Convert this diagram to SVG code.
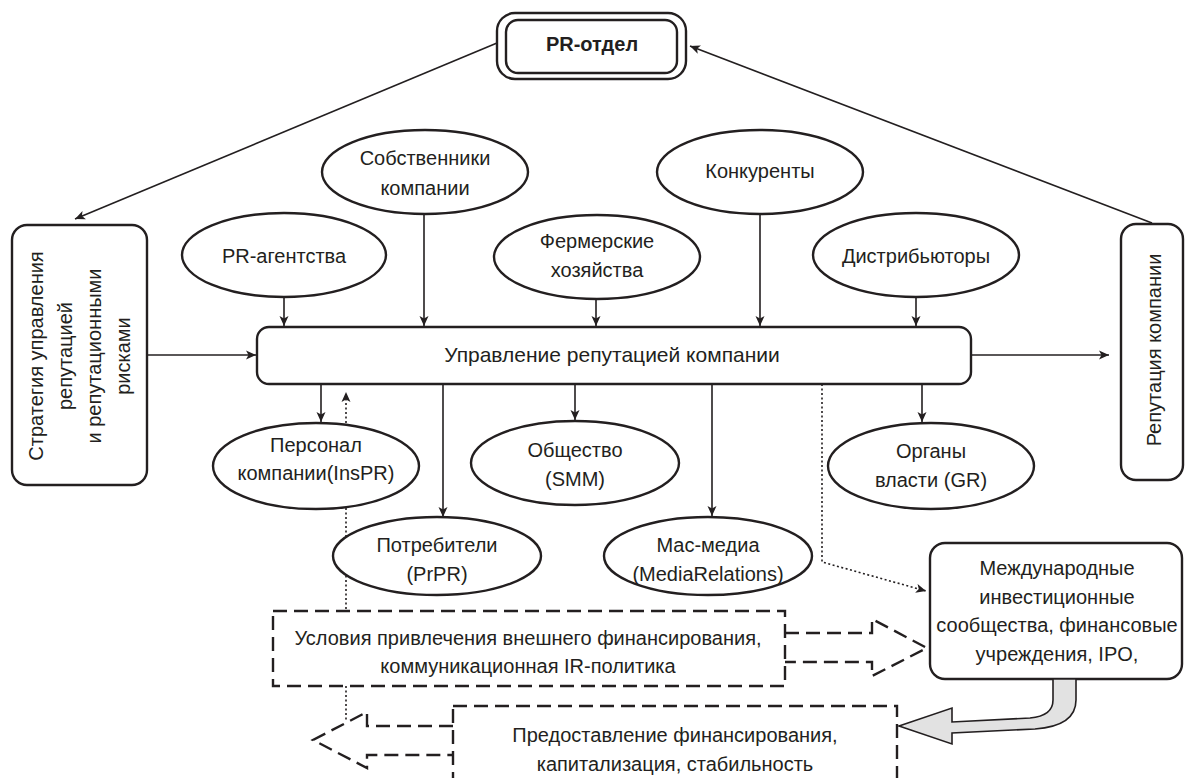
<svg xmlns="http://www.w3.org/2000/svg" width="1186" height="778" viewBox="0 0 1186 778">
  <style>
    text { font-family: "Liberation Sans", Arial, sans-serif; font-size: 20px; fill: #231f20; }
    .c { text-anchor: middle; }
    .node { fill: #fff; stroke: #231f20; stroke-width: 2.4; }
    .link { fill: none; stroke: #231f20; stroke-width: 1.6; }
    .dot { fill: none; stroke: #231f20; stroke-width: 1.6; stroke-dasharray: 2 2.5; }
    .dash { fill: none; stroke: #231f20; stroke-width: 2.4; stroke-dasharray: 14 7; }
  </style>
  <defs>
    <marker id="arr" viewBox="0 0 10 10" markerWidth="10" markerHeight="10" refX="10" refY="5" orient="auto" markerUnits="userSpaceOnUse">
      <path d="M0,0.5 L10,5 L0,9.5 L2.5,5 Z" fill="#231f20"/>
    </marker>
  </defs>
  <rect width="1186" height="778" fill="#fff"/>

  <!-- connectors -->
  <g id="connectors">
    <line class="link" x1="497" y1="43" x2="75" y2="219" marker-end="url(#arr)"/>
    <line class="link" x1="1152" y1="223" x2="690" y2="46" marker-end="url(#arr)"/>
    <line class="link" x1="147" y1="355" x2="256" y2="355" marker-end="url(#arr)"/>
    <line class="link" x1="971" y1="355" x2="1109" y2="355" marker-end="url(#arr)"/>

    <line class="link" x1="284" y1="297" x2="284" y2="326" marker-end="url(#arr)"/>
    <line class="link" x1="424" y1="214" x2="424" y2="326" marker-end="url(#arr)"/>
    <line class="link" x1="596" y1="299" x2="596" y2="326" marker-end="url(#arr)"/>
    <line class="link" x1="760" y1="214" x2="760" y2="326" marker-end="url(#arr)"/>
    <line class="link" x1="916" y1="297" x2="916" y2="326" marker-end="url(#arr)"/>

    <line class="link" x1="321" y1="384" x2="321" y2="422" marker-end="url(#arr)"/>
    <line class="dot" x1="346" y1="423" x2="346" y2="392" marker-end="url(#arr)"/>
    <line class="link" x1="443" y1="384" x2="443" y2="517" marker-end="url(#arr)"/>
    <line class="link" x1="575" y1="384" x2="575" y2="420" marker-end="url(#arr)"/>
    <line class="link" x1="712" y1="384" x2="712" y2="516" marker-end="url(#arr)"/>
    <line class="link" x1="922" y1="384" x2="922" y2="422" marker-end="url(#arr)"/>

    <polyline class="dot" points="822,384 822,562 926,591" marker-end="url(#arr)"/>
    <line class="dot" x1="346" y1="508" x2="346" y2="611"/>
    <line class="dot" x1="346" y1="686" x2="346" y2="722"/>

    <!-- hollow dashed arrows -->
    <path class="dash" d="M785,633 H872 V619 L927,648 L872,676 V662 H785"/>
    <path class="dash" d="M453,726 H367 V712 L313,740 L367,768 V755 H453"/>
  </g>

  <!-- PR department -->
  <g id="pr-dept">
    <rect x="497" y="13" width="189" height="66" rx="18" class="node"/>
    <rect x="506" y="20" width="171" height="53" rx="12" class="node"/>
    <text x="592" y="51" class="c" style="font-weight:bold">PR-отдел</text>
  </g>

  <!-- strategy -->
  <g id="strategy">
    <rect x="12" y="225" width="135" height="260" rx="15" class="node"/>
    <text class="c" transform="translate(43,356) rotate(-90)">Стратегия управления</text>
    <text class="c" transform="translate(72,356) rotate(-90)">репутацией</text>
    <text class="c" transform="translate(101,356) rotate(-90)">и репутационными</text>
    <text class="c" transform="translate(130,356) rotate(-90)">рисками</text>
  </g>

  <!-- reputation -->
  <g id="reputation">
    <rect x="1121" y="224" width="62" height="256" rx="15" class="node"/>
    <text class="c" transform="translate(1161,350) rotate(-90)">Репутация компании</text>
  </g>

  <!-- central process -->
  <g id="management">
    <rect x="257" y="327" width="714" height="57" rx="12" class="node"/>
    <text x="612" y="362" class="c" style="font-size:21px">Управление репутацией компании</text>
  </g>

  <!-- stakeholders above -->
  <g id="pr-agencies">
    <ellipse cx="284" cy="255" rx="102" ry="42" class="node"/>
    <text x="284" y="263" class="c">PR-агентства</text>
  </g>
  <g id="owners">
    <ellipse cx="425" cy="172" rx="103" ry="42" class="node"/>
    <text x="425" y="165" class="c">Собственники</text>
    <text x="425" y="195" class="c">компании</text>
  </g>
  <g id="farms">
    <ellipse cx="597" cy="257" rx="103" ry="42" class="node"/>
    <text x="597" y="248" class="c">Фермерские</text>
    <text x="597" y="277" class="c">хозяйства</text>
  </g>
  <g id="competitors">
    <ellipse cx="760" cy="172" rx="103" ry="42" class="node"/>
    <text x="760" y="178" class="c">Конкуренты</text>
  </g>
  <g id="distributors">
    <ellipse cx="916" cy="255" rx="103" ry="42" class="node"/>
    <text x="916" y="263" class="c">Дистрибьюторы</text>
  </g>

  <!-- stakeholders below -->
  <g id="staff">
    <ellipse cx="316" cy="466" rx="103" ry="43" class="node"/>
    <text x="316" y="452" class="c">Персонал</text>
    <text x="316" y="480" class="c">компании(InsPR)</text>
  </g>
  <g id="society">
    <ellipse cx="575" cy="463" rx="104" ry="42" class="node"/>
    <text x="575" y="457" class="c">Общество</text>
    <text x="575" y="486" class="c">(SMM)</text>
  </g>
  <g id="authorities">
    <ellipse cx="931" cy="466" rx="103" ry="43" class="node"/>
    <text x="931" y="458" class="c">Органы</text>
    <text x="931" y="487" class="c">власти (GR)</text>
  </g>
  <g id="consumers">
    <ellipse cx="437" cy="556" rx="104" ry="39" class="node"/>
    <text x="437" y="552" class="c">Потребители</text>
    <text x="437" y="581" class="c">(PrPR)</text>
  </g>
  <g id="media">
    <ellipse cx="708" cy="556" rx="104" ry="39" class="node"/>
    <text x="708" y="552" class="c">Мас-медиа</text>
    <text x="708" y="581" class="c">(MediaRelations)</text>
  </g>

  <!-- investors -->
  <g id="investors">
    <rect x="930" y="543" width="252" height="136" rx="15" class="node"/>
    <text x="1057" y="575" class="c">Международные</text>
    <text x="1057" y="604" class="c">инвестиционные</text>
    <text x="1057" y="632" class="c">сообщества, финансовые</text>
    <text x="1057" y="661" class="c">учреждения, IPO,</text>
  </g>

  <!-- curved return arrow -->
  <g id="funding-flow">
    <path d="M1053,679 V700 Q1053,716 1030,718 L952,722 V708 L899,726 L952,744 V733 L1035,729 Q1076,726 1076,700 V679 Z" fill="#e2e2e2" stroke="#231f20" stroke-width="1.6" stroke-linejoin="miter"/>
  </g>

  <!-- financing terms -->
  <g id="financing-terms">
    <rect x="273" y="611" width="512" height="75" class="dash"/>
    <text x="528" y="645" class="c">Условия привлечения внешнего финансирования,</text>
    <text x="528" y="673" class="c">коммуникационная IR-политика</text>
  </g>

  <!-- financing result -->
  <g id="financing-result">
    <rect x="453" y="706" width="444" height="100" class="dash"/>
    <text x="675" y="742" class="c">Предоставление финансирования,</text>
    <text x="675" y="771" class="c">капитализация, стабильность</text>
  </g>
</svg>
